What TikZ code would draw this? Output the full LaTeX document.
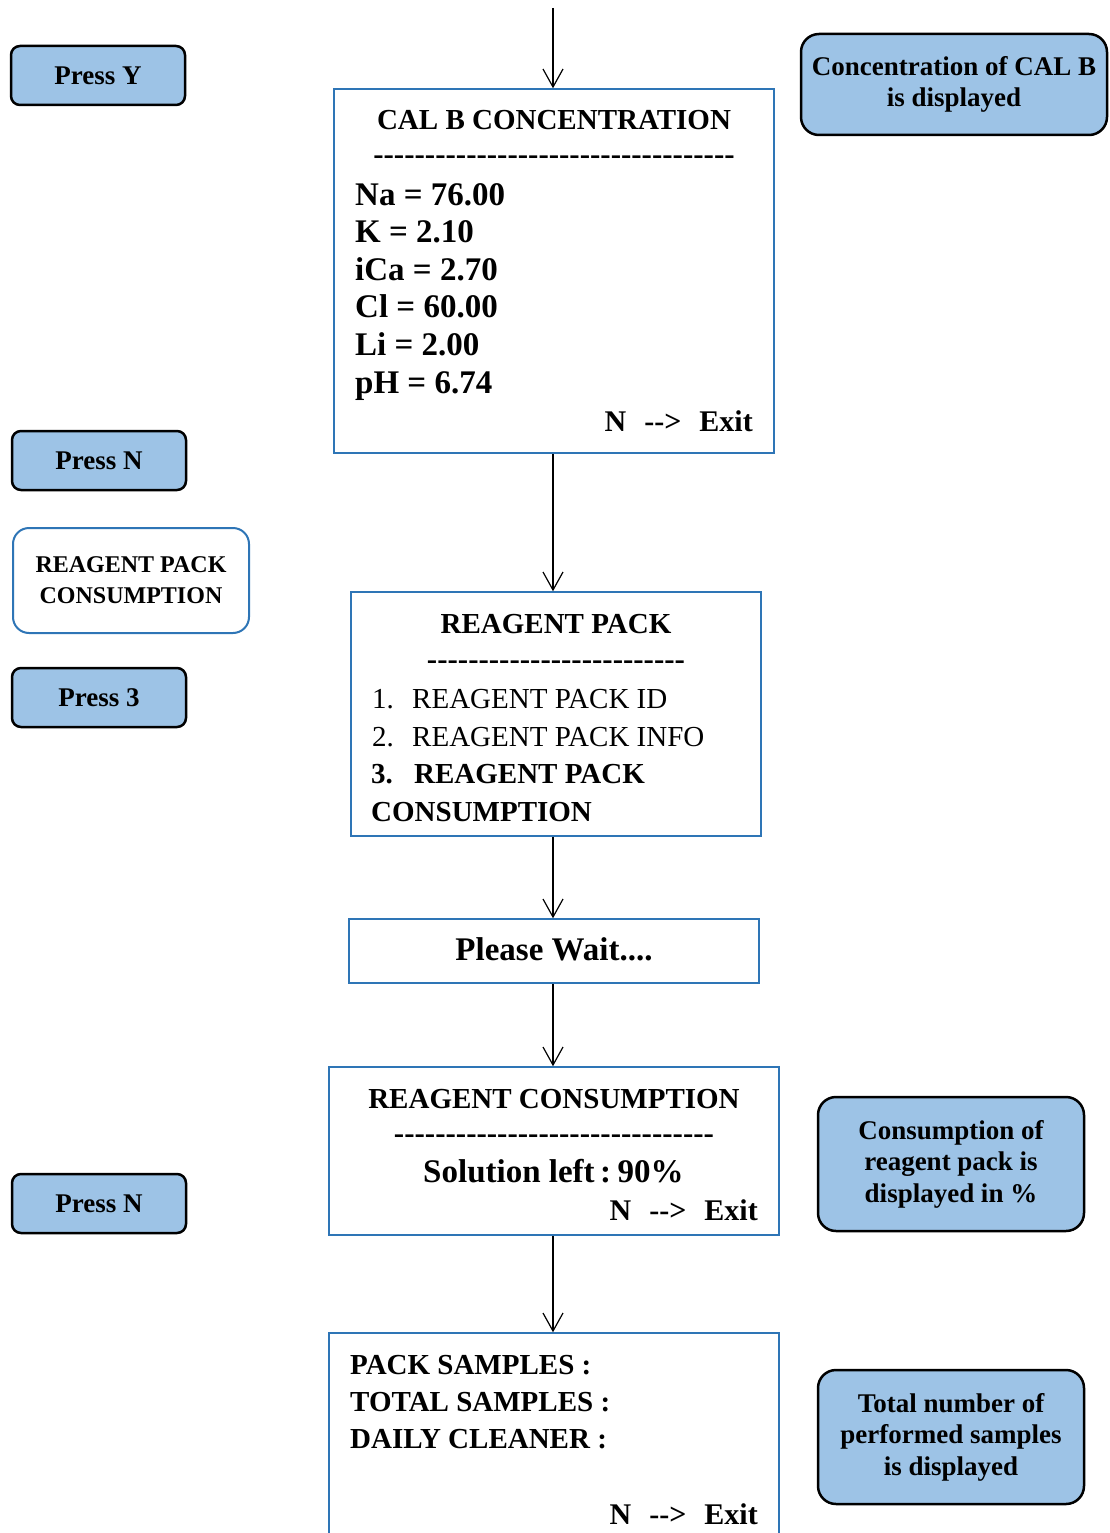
\documentclass[tikz,border=0pt]{standalone}
\usepackage{fontspec}
\setmainfont{Liberation Serif}[Ligatures=TeXOff]
\usetikzlibrary{arrows.meta}
\definecolor{keyfill}{HTML}{9DC3E6}
\definecolor{frameblue}{HTML}{2E75B6}
\ExplSyntaxOn
\cs_new:Npn \dashrow #1 {\prg_replicate:nn {#1} {-}}
\ExplSyntaxOff
\newcommand\exitkey{N\hspace{0.6em}-->\hspace{0.6em}Exit}

\tikzset{
  screen/.style={draw=frameblue, line width=1.5pt, fill=white, inner sep=0pt},
  keybox/.style={draw=black, line width=2.5pt, fill=keyfill, rounded corners=9pt,
    minimum width=174pt, minimum height=59pt, inner sep=0pt,
    font=\fontsize{27pt}{31.5pt}\selectfont\bfseries, align=center},
  notebox/.style={keybox, rounded corners=18pt},
  menubox/.style={draw=frameblue, line width=2pt, fill=white, rounded corners=16pt,
    minimum width=236pt, minimum height=105pt, inner sep=0pt,
    font=\fontsize{24pt}{31pt}\selectfont\bfseries, align=center},
  line/.style={inner sep=0pt, font=\fontsize{29pt}{37.6pt}\selectfont\bfseries},
  wide/.style={inner sep=0pt, font=\fontsize{33pt}{37.6pt}\selectfont\bfseries},
  plain/.style={inner sep=0pt, font=\fontsize{29pt}{37.6pt}\selectfont},
  rule/.style={inner sep=0pt, font=\fontsize{31pt}{37.6pt}\selectfont\bfseries},
  exit/.style={inner sep=0pt, anchor=base east, font=\fontsize{30pt}{37.6pt}\selectfont\bfseries},
  flow/.style={-{Straight Barb[length=18pt,width=20pt]}, line width=1.2pt},
}

\begin{document}
\begin{tikzpicture}[x=1pt, y=-1pt]
\useasboundingbox (0,0) rectangle (1109,1533);
\clip (0,0) rectangle (1109,1533);

% ---- main column: display screens ----
\node[screen, minimum width=440pt, minimum height=364pt] (cal) at (554,271) {};
\node[line, anchor=base] (calT) at (554,130) {CAL B CONCENTRATION};
\node[rule, anchor=base] (calD) at (554,165) {\dashrow{35}};
\node[wide, anchor=base west] (na)  at (355,205)   {Na = 76.00};
\node[wide, anchor=base west] (k)   at (355,242.6) {K = 2.10};
\node[wide, anchor=base west] (ica) at (355,280.2) {iCa = 2.70};
\node[wide, anchor=base west] (cl)  at (355,317.8) {Cl = 60.00};
\node[wide, anchor=base west] (li)  at (355,355.4) {Li = 2.00};
\node[wide, anchor=base west] (ph)  at (355,393)   {pH = 6.74};
\node[exit] (calX) at (753,431) {\exitkey};

\node[screen, minimum width=410pt, minimum height=244pt] (rp) at (556,714) {};
\node[line, anchor=base] (rpT) at (556,633) {REAGENT PACK};
\node[rule, anchor=base] (rpD) at (556,669) {\dashrow{25}};
\node[plain, anchor=base west] (rp1) at (372,708) {\makebox[40pt][l]{1.}REAGENT PACK ID};
\node[plain, anchor=base west] (rp2) at (372,746) {\makebox[40pt][l]{2.}REAGENT PACK INFO};
\node[line, anchor=base west] (rp3) at (371,783) {\makebox[43pt][l]{3.}REAGENT PACK};
\node[line, anchor=base west] (rp3b) at (371,821) {CONSUMPTION};

\node[screen, minimum width=410pt, minimum height=64pt] (wait) at (554,951) {};
\node[wide, anchor=base] (waitT) at (554,960) {Please Wait....};

\node[screen, minimum width=450pt, minimum height=168pt] (cons) at (554,1151) {};
\node[line, anchor=base] (consT) at (554,1108) {REAGENT CONSUMPTION};
\node[rule, anchor=base] (consD) at (554,1143) {\dashrow{31}};
\node[wide, anchor=base] (consS) at (553.5,1182) {Solution left\,:\hspace{0.2em}90\%};
\node[exit] (consX) at (758,1220) {\exitkey};

\node[screen, minimum width=450pt, minimum height=240pt] (samp) at (554,1453) {};
\node[line, anchor=base west] (s1) at (350,1374) {PACK SAMPLES :};
\node[line, anchor=base west] (s2) at (350,1411) {TOTAL SAMPLES :};
\node[line, anchor=base west] (s3) at (350,1448) {DAILY CLEANER :};
\node[exit] (sX) at (758,1524) {\exitkey};

% ---- flow arrows ----
\coordinate (entry) at (553,8);
\draw[flow] (entry) -- (entry |- cal.north);
\draw[flow] (cal.south -| entry) -- (entry |- rp.north);
\draw[flow] (rp.south -| entry) -- (entry |- wait.north);
\draw[flow] (wait.south -| entry) -- (entry |- cons.north);
\draw[flow] (cons.south -| entry) -- (entry |- samp.north);

% ---- key presses (left) ----
\node[keybox] (pressY)  at (98,75.5)  {Press Y};
\node[keybox] (pressN)  at (99,460.5) {Press N};
\node[menubox] (menu)   at (131,580.5) {REAGENT PACK\\CONSUMPTION};
\node[keybox] (press3)  at (99,697.5) {Press 3};
\node[keybox] (pressN2) at (99,1203.5) {Press N};

% ---- explanations (right) ----
\node[notebox, minimum width=306pt, minimum height=101pt] (noteCal) at (954,84.5)
  {Concentration of CAL B\\is displayed};
\node[notebox, minimum width=266pt, minimum height=134pt] (noteCons) at (951,1164)
  {Consumption of\\reagent pack is\\displayed in \%};
\node[notebox, minimum width=266pt, minimum height=134pt] (noteSamp) at (951,1437)
  {Total number of\\performed samples\\is displayed};
\end{tikzpicture}
\end{document}
